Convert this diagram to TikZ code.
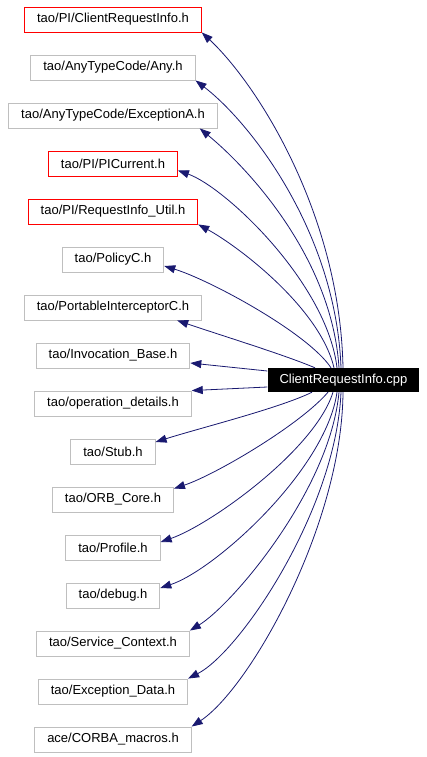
\documentclass[tikz,border=0pt]{standalone}
\usepackage{fontspec}
\setmainfont{Liberation Sans}
\usetikzlibrary{arrows.meta}
\definecolor{edgeblue}{HTML}{191970}
\definecolor{boxgray}{HTML}{BFBFBF}
\tikzset{hdr/.style={draw=#1, line width=0.9pt, minimum height=25pt, inner xsep=12.5pt, inner ysep=0pt,
   font=\fontsize{13}{13}\selectfont},
 src/.style={fill=black, text=white, minimum height=24pt, inner xsep=12pt, inner ysep=0pt,
   font=\fontsize{13}{13}\selectfont},
 dep/.style={draw=edgeblue, line width=0.8pt, -{Triangle[length=11pt,width=8pt]}},
 }

\begin{document}
\begin{tikzpicture}[x=1pt,y=-1pt]
        \useasboundingbox (0,0) rectangle (427,757);
        \foreach \c/\f [count=\i] in {red/{tao/PI/ClientRequestInfo.h}, boxgray/{tao/AnyTypeCode/Any.h},
            boxgray/{tao/AnyTypeCode/ExceptionA.h}, red/{tao/PI/PICurrent.h}, red/{tao/PI/RequestInfo\_Util.h},
            boxgray/{tao/PolicyC.h}, boxgray/{tao/PortableInterceptorC.h}, boxgray/{tao/Invocation\_Base.h},
            boxgray/{tao/operation\_details.h}, boxgray/{tao/Stub.h}, boxgray/{tao/ORB\_Core.h},
            boxgray/{tao/Profile.h}, boxgray/{tao/debug.h}, boxgray/{tao/Service\_Context.h},
            boxgray/{tao/Exception\_Data.h}, boxgray/{ace/CORBA\_macros.h}} {
            \node[hdr=\c] (b\i) at (113, {19.5+48*(\i-1)}) {\f};
        }
        \node[src] (cpp) at (343.5, 380) {ClientRequestInfo.cpp};
        % upper fan
        \draw[dep] ([xshift=-0.5pt]cpp.north) .. controls (340,215) and (258,85) .. (b1.south east);
        \draw[dep] ([xshift=-2.5pt]cpp.north) .. controls (336,232) and (250,122) .. (b2.south east);
        \draw[dep] ([xshift=-4.5pt]cpp.north) .. controls (332,258) and (248,168) .. ([xshift=-18pt]b3.south east);
        \draw[dep] ([xshift=-6.5pt]cpp.north) .. controls (327,283) and (225,187) .. ([yshift=-7pt]b4.east);
        \draw[dep] ([xshift=-9.5pt]cpp.north) .. controls (320,308) and (238,246) .. (b5.south east);
        \draw[dep] ([xshift=-12.5pt]cpp.north) .. controls (308,333) and (210,280) .. ([yshift=-6.5pt]b6.east);
        \draw[dep] ([xshift=-28.5pt]cpp.north) .. controls (285,355) and (220,335) .. ([xshift=-25pt]b7.south east);
        \draw[dep] ([yshift=9pt]cpp.west) -- ([yshift=-7.5pt]b8.east);
        \draw[dep] ([yshift=-7pt]cpp.west) -- (b9.north east);
        % lower fan
        \draw[dep] ([xshift=-31.5pt]cpp.south) .. controls (280,408) and (200,428) .. ([yshift=9.5pt]b10.east);
        \draw[dep] ([xshift=-15.5pt]cpp.south) .. controls (300,425) and (215,475) .. ([yshift=-2pt]b11.north east);
        \draw[dep] ([xshift=-10.5pt]cpp.south) .. controls (315,450) and (210,525) .. ([yshift=5.5pt]b12.east);
        \draw[dep] ([xshift=-6.5pt]cpp.south) .. controls (326,470) and (215,570) .. ([yshift=7.5pt]b13.east);
        \draw[dep] ([xshift=-4.5pt]cpp.south) .. controls (330,490) and (232,605) .. (b14.north east);
        \draw[dep] ([xshift=-2.5pt]cpp.south) .. controls (336,510) and (240,652) .. (b15.north east);
        \draw[dep] ([xshift=-0.5pt]cpp.south) .. controls (342,525) and (250,688) .. (b16.north east);
    \end{tikzpicture}
\end{document}
